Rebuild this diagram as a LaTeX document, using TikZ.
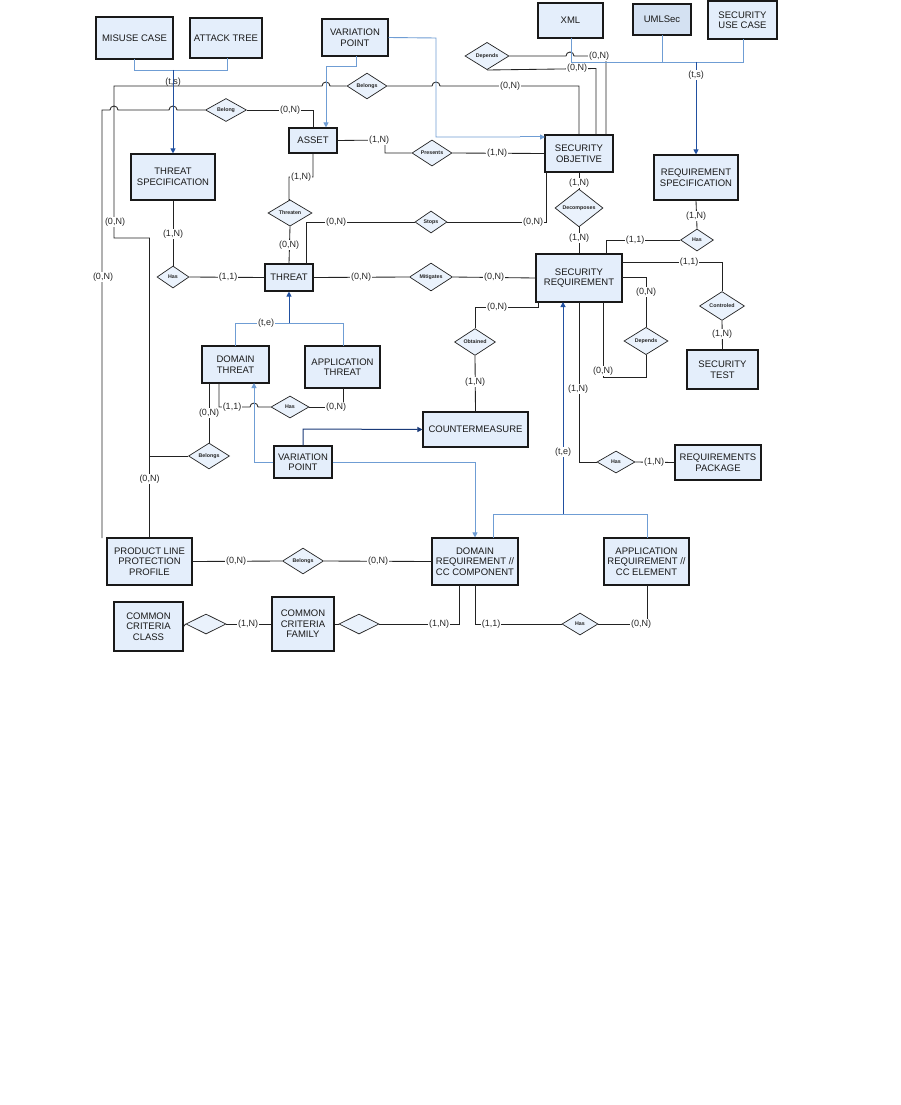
\documentclass[tikz,border=0pt]{standalone}
\usepackage{fontspec}
\setmainfont{Liberation Sans}
\usetikzlibrary{shapes.geometric,arrows.meta}
\definecolor{boxfill}{HTML}{E4EEFB}
\definecolor{umlfill}{HTML}{D4E1F2}
\definecolor{dfill}{HTML}{EAF2FC}
\definecolor{lblue}{HTML}{6F9DD4}
\definecolor{dblue}{HTML}{2150A0}
\definecolor{navy}{HTML}{1A3A78}
\definecolor{ln}{HTML}{222222}
\tikzset{
 ent/.style={draw=black!90, line width=1.1pt, fill=boxfill, align=center, inner sep=0pt,
   font=\fontsize{9.5}{10.5}\selectfont, text=black!90},
 rel/.style={diamond, draw=ln, line width=0.7pt, fill=dfill, inner sep=0pt,
   font=\fontsize{5.3}{5.3}\selectfont\bfseries, text=black!85},
 conn/.style={draw=ln, line width=0.85pt},
 isa/.style={draw=lblue, line width=0.9pt},
 stem/.style={draw=dblue, line width=1pt, -{Triangle[width=5pt,length=5pt]}},
 card/.style={fill=white, inner sep=0.6pt, font=\fontsize{9}{9}\selectfont, text=black!85},
 cardn/.style={inner sep=0.6pt, font=\fontsize{9}{9}\selectfont, text=black!85},
}
\begin{document}
\begin{tikzpicture}[x=1pt,y=-1pt]
\useasboundingbox[fill=white] (0,0) rectangle (901,1105);

% ---------- entities ----------
\node[ent, minimum width=77, minimum height=42] (misuse) at (134.5,38) {MISUSE CASE};
\node[ent, minimum width=72, minimum height=40] (attack) at (226,38) {ATTACK TREE};
\node[ent, minimum width=66, minimum height=37] (vpa) at (355,37.5) {VARIATION\\POINT};
\node[ent, minimum width=65, minimum height=35] (xml) at (570.5,20.5) {XML};
\node[ent, fill=umlfill, minimum width=58, minimum height=31] (umlsec) at (662,19.5) {UMLSec};
\node[ent, minimum width=69, minimum height=38] (secuse) at (742.5,20) {SECURITY\\USE CASE};
\node[ent, minimum width=48, minimum height=25] (asset) at (313,140.5) {ASSET};
\node[ent, minimum width=68, minimum height=37] (secobj) at (579,153.5) {SECURITY\\OBJETIVE};
\node[ent, minimum width=84, minimum height=45] (reqspec) at (696,177.5) {REQUIREMENT\\SPECIFICATION};
\node[ent, minimum width=84, minimum height=46] (thspec) at (173,177) {THREAT\\SPECIFICATION};
\node[ent, minimum width=48, minimum height=27] (threat) at (289,277.5) {THREAT};
\node[ent, minimum width=86, minimum height=48] (secreq) at (579,278) {SECURITY\\REQUIREMENT};
\node[ent, minimum width=71, minimum height=39] (sectest) at (722.5,369.5) {SECURITY\\TEST};
\node[ent, minimum width=67, minimum height=37] (domth) at (235.5,364.5) {DOMAIN\\THREAT};
\node[ent, minimum width=75, minimum height=42] (appth) at (342.5,367) {APPLICATION\\THREAT};
\node[ent, minimum width=105, minimum height=35] (counter) at (475.5,429.5) {COUNTERMEASURE};
\node[ent, minimum width=58, minimum height=32] (vpb) at (303,462) {VARIATION\\POINT};
\node[ent, minimum width=86, minimum height=35] (reqpkg) at (718,462.5) {REQUIREMENTS\\PACKAGE};
\node[ent, minimum width=85, minimum height=47] (plpp) at (149.5,561.5) {PRODUCT LINE\\PROTECTION\\PROFILE};
\node[ent, minimum width=86, minimum height=47] (domreq) at (475,561.5) {DOMAIN\\REQUIREMENT //\\CC COMPONENT};
\node[ent, minimum width=85, minimum height=47] (appreq) at (646.5,561.5) {APPLICATION\\REQUIREMENT //\\CC ELEMENT};
\node[ent, minimum width=69, minimum height=49] (ccclass) at (148.5,626.5) {COMMON\\CRITERIA\\CLASS};
\node[ent, minimum width=62, minimum height=54] (ccfam) at (303,624) {COMMON\\CRITERIA\\FAMILY};

% ---------- relationships ----------
\node[rel, minimum width=40, minimum height=23] (belongsT) at (367,86) {Belongs};
\node[rel, minimum width=41, minimum height=23] (belongA) at (226,110) {Belong};
\node[rel, minimum width=44, minimum height=25] (dependsO) at (487,56) {Depends};
\node[rel, minimum width=40, minimum height=23] (presents) at (432,153) {Presents};
\node[rel, minimum width=44, minimum height=26] (threaten) at (290,213) {Threaten};
\node[rel, minimum width=32, minimum height=22] (stops) at (431,222) {Stops};
\node[rel, minimum width=48, minimum height=26] (decomp) at (579,208) {Decomposes};
\node[rel, minimum width=32, minimum height=22] (hasspec) at (173,277) {Has};
\node[rel, minimum width=43, minimum height=24] (mitig) at (431,277) {Mitigates};
\node[rel, minimum width=33, minimum height=22] (hasreq) at (697,240) {Has};
\node[rel, minimum width=45, minimum height=24] (control) at (722,306) {Controled};
\node[rel, minimum width=44, minimum height=24] (dependsR) at (646,341) {Depends};
\node[rel, minimum width=41, minimum height=24] (obtained) at (475,342) {Obtained};
\node[rel, minimum width=38, minimum height=22] (hasth) at (290,407) {Has};
\node[rel, minimum width=41, minimum height=23] (belongsD) at (209,456) {Belongs};
\node[rel, minimum width=38, minimum height=22] (haspkg) at (616,462) {Has};
\node[rel, minimum width=41, minimum height=22] (belongsP) at (303,561) {Belongs};
\node[rel, minimum width=40, minimum height=20] (ccda) at (206,624) {};
\node[rel, minimum width=40, minimum height=20] (ccdb) at (359,624) {};
\node[rel, minimum width=36, minimum height=22] (hascc) at (580,624) {Has};

\coordinate (lfree) at (102,538);

% ---------- black connectors ----------
\draw[conn] (plpp.north) -- (149.5,238) -- (114,238) -- (114,86) -- (322,86)
  arc[start angle=180,end angle=360,radius=4] -- (belongsT.west);
\draw[conn] (belongsT.east) -- (432,86) arc[start angle=180,end angle=360,radius=4]
  -- (579,86) -- (secobj.north);
\draw[conn] (lfree) -- (102,110) -- (110,110) arc[start angle=180,end angle=360,radius=4]
  -- (169,110) arc[start angle=180,end angle=360,radius=4] -- (belongA.west);
\draw[conn] (belongA.east) -- (313,110) -- (asset.north);
\draw[conn] (belongsD.west) -- (149.5,456);
\draw[conn] (209,383) -- (belongsD.north);
\draw[conn] (asset.east) -- (385,140) -- (385,153) -- (presents.west);
\draw[conn] (presents.east) -- (secobj.west);
\draw[conn] (asset.south) -- (313,177) -- (289,177) -- (289,200) -- (threaten.north);
\draw[conn] (threaten.south) -- (threat.north);
\draw[conn] (306,264) -- (306,222) -- (stops.west);
\draw[conn] (stops.east) -- (546,222) -- (546,172);
\draw[conn] (thspec.south) -- (hasspec.north);
\draw[conn] (hasspec.east) -- (threat.west);
\draw[conn] (threat.east) -- (mitig.west);
\draw[conn] (mitig.east) -- (secreq.west);
\draw[conn] (dependsO.east) -- (566,56) arc[start angle=180,end angle=360,radius=4]
  -- (606,56) -- (606,135);
\draw[conn] (dependsO.south) -- (596,68.5) -- (596,135);
\draw[conn] (secobj.south) -- (decomp.north);
\draw[conn] (decomp.south) -- (secreq.north);
\draw[conn] (reqspec.south) -- (hasreq.north);
\draw[conn] (hasreq.west) -- (606,240) -- (606,254);
\draw[conn] (622,262) -- (722,262) -- (control.north);
\draw[conn] (control.south) -- (sectest.north);
\draw[conn] (622,277) -- (646,277) -- (dependsR.north);
\draw[conn] (dependsR.south) -- (646,377) -- (603,377) -- (603,302);
\draw[conn] (counter.north) -- (obtained.south);
\draw[conn] (obtained.north) -- (475,307) -- (538,307) -- (538,302);
\draw[conn] (579,302) -- (579,462) -- (haspkg.west);
\draw[conn] (haspkg.east) -- (reqpkg.west);
\draw[conn] (219,383) -- (219,407) -- (250,407) arc[start angle=180,end angle=360,radius=4]
  -- (hasth.west);
\draw[conn] (hasth.east) -- (343,407) -- (343,388);
\draw[conn] (plpp.east) -- (belongsP.west);
\draw[conn] (belongsP.east) -- (domreq.west);
\draw[conn] (ccda.west) -- (ccclass.east);
\draw[conn] (ccda.east) -- (ccfam.west);
\draw[conn] (ccfam.east) -- (ccdb.west);
\draw[conn] (ccdb.east) -- (459,624) -- (459,585);
\draw[conn] (475,585) -- (475,624) -- (hascc.west);
\draw[conn] (hascc.east) -- (647,624) -- (647,585);

% ---------- blue connectors ----------
\draw[isa] (134,59) -- (134,70) -- (227,70) -- (227,58);
\draw[stem] (173,70) -- (thspec.north);
\draw[isa] (vpa.east) -- (436,38) -- (436,137) -- (520,137);
\draw[stem, draw=lblue] (520,137) -- (545,137);
\draw[isa] (356,56) -- (356,66) -- (326,66) -- (326,110);
\draw[stem, draw=lblue] (326,110) -- (asset.north -| 326,0);
\draw[isa] (571,38) -- (571,62) -- (743,62) -- (743,39);
\draw[isa] (662,35) -- (662,62);
\draw[stem] (696,62) -- (reqspec.north);
\draw[isa] (235,346) -- (235,323) -- (343,323) -- (343,346);
\draw[stem] (289,323) -- (threat.south);
\draw[isa] (vpb.west) -- (254,462) -- (254,400);
\draw[stem, draw=lblue] (254,400) -- (254,383);
\draw[isa] (vpb.east) -- (475,462) -- (475,520);
\draw[stem, draw=lblue] (475,520) -- (domreq.north);
\draw[stem, draw=navy] (vpb.north) -- (303,429) -- (counter.west);
\draw[isa] (493,538) -- (493,514) -- (647,514) -- (647,538);
\draw[stem] (563,514) -- (563,302);

% ---------- cardinality labels ----------
\node[cardn] at (173,82) {(t,s)};
\node[card] at (510,86) {(0,N)};
\node[card] at (115,222) {(0,N)};
\node[card] at (149.5,479) {(0,N)};
\node[card] at (290,110) {(0,N)};
\node[card] at (103,277) {(0,N)};
\node[card] at (209,413) {(0,N)};
\node[card] at (379,140) {(1,N)};
\node[card] at (497,153) {(1,N)};
\node[card] at (301,177) {(1,N)};
\node[card] at (289,245) {(0,N)};
\node[card] at (336,222) {(0,N)};
\node[card] at (533,222) {(0,N)};
\node[card] at (173,234) {(1,N)};
\node[card] at (228,277) {(1,1)};
\node[card] at (361,277) {(0,N)};
\node[card] at (494,277) {(0,N)};
\node[card] at (599,56) {(0,N)};
\node[card] at (577,68.5) {(0,N)};
\node[card] at (579,183) {(1,N)};
\node[card] at (579,238) {(1,N)};
\node[card] at (696,75) {(t,s)};
\node[card] at (696,216) {(1,N)};
\node[card] at (635,240) {(1,1)};
\node[card] at (689,262) {(1,1)};
\node[card] at (722,334) {(1,N)};
\node[card] at (646,292) {(0,N)};
\node[card] at (603,371) {(0,N)};
\node[card] at (475,382) {(1,N)};
\node[card] at (497,307) {(0,N)};
\node[card] at (578,389) {(1,N)};
\node[card] at (654,462) {(1,N)};
\node[card] at (266,323) {(t,e)};
\node[card] at (563,452) {(t,e)};
\node[card] at (232,407) {(1,1)};
\node[card] at (336,407) {(0,N)};
\node[card] at (236,561) {(0,N)};
\node[card] at (378,561) {(0,N)};
\node[card] at (248,624) {(1,N)};
\node[card] at (439,624) {(1,N)};
\node[card] at (491,624) {(1,1)};
\node[card] at (641,624) {(0,N)};
\end{tikzpicture}
\end{document}
